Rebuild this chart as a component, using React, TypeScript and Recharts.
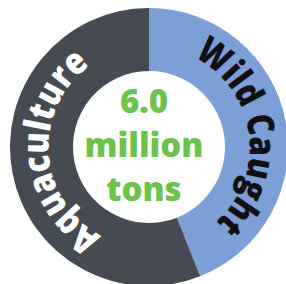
import { Cell, Label, Pie, PieChart } from 'recharts';

const sources = ['Wild Caught', 'Aquaculture'];
const shares = [44, 56];
const totalLines = ['6.0', 'million', 'tons'];

const colors = ['#7c9fd7', '#464b53'];
const labelColors = ['#111111', '#ffffff'];

const CX = 144;
const CY = 142;
const OUTER = 139;
const INNER = 76;
const FONT = "'Open Sans', sans-serif";
// ring labels: clockwise nudge (deg) and arc they cover (deg)
const SHIFT = [3, 7];
const SPAN = [112, 116];

const data = sources.map((name, i) => ({ name, value: shares[i] }));

function pt(cx: number, cy: number, r: number, deg: number) {
  const a = (deg * Math.PI) / 180;
  return [cx + r * Math.cos(a), cy - r * Math.sin(a)];
}

function ArcLabel(props: any) {
  const { cx, cy, startAngle, endAngle, index, innerRadius, outerRadius } = props;
  const r = (innerRadius + outerRadius) / 2 - 7;
  const mid = (startAngle + endAngle) / 2 - SHIFT[index];
  const [x1, y1] = pt(cx, cy, r, mid + 90);
  const [x2, y2] = pt(cx, cy, r, mid - 90);
  const id = `arc-label-${index}`;
  const len = (SPAN[index] * Math.PI * r) / 180;
  return (
    <g>
      <path id={id} d={`M ${x1} ${y1} A ${r} ${r} 0 0 1 ${x2} ${y2}`} fill="none" stroke="none" />
      <text fill={labelColors[index]} fontFamily={FONT} fontWeight={800} fontSize={37}>
        <textPath
          href={`#${id}`}
          startOffset="50%"
          textAnchor="middle"
          textLength={len}
          lengthAdjust="spacingAndGlyphs"
        >
          {props.name}
        </textPath>
      </text>
    </g>
  );
}

function CenterText() {
  return (
    <g>
      {totalLines.map((t, i) => (
        <text
          key={t}
          x={CX}
          y={CY - 29 + i * 44}
          textAnchor="middle"
          fill="#6cc24a"
          fontFamily={FONT}
          fontWeight={800}
          fontSize={33}
        >
          {t}
        </text>
      ))}
    </g>
  );
}

export default function App() {
  return (
    <div style={{ position: 'absolute', left: 0, top: 0, background: '#fff' }}>
      <PieChart width={286} height={284}>
        <Pie
          data={data}
          dataKey="value"
          nameKey="name"
          cx={CX}
          cy={CY}
          innerRadius={INNER}
          outerRadius={OUTER}
          startAngle={90}
          endAngle={-270}
          stroke="none"
          label={ArcLabel}
          labelLine={false}
          isAnimationActive={false}
        >
          {data.map((d, i) => (
            <Cell key={d.name} fill={colors[i]} />
          ))}
          <Label position="center" content={() => <CenterText />} />
        </Pie>
      </PieChart>
    </div>
  );
}
